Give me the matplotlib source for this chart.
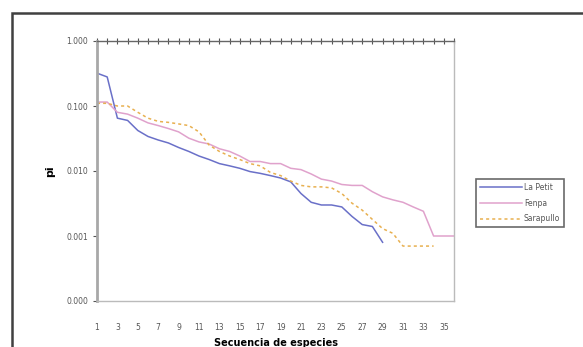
import numpy as np
import matplotlib
matplotlib.use("Agg")
import matplotlib.pyplot as plt
from matplotlib.patches import Rectangle
from matplotlib.ticker import FixedLocator, FixedFormatter

# species rank (category axis)
species = list(range(1, 37))

la_petit = [0.32, 0.28, 0.065, 0.06, 0.042, 0.034, 0.030, 0.027, 0.023, 0.020,
            0.017, 0.015, 0.013, 0.012, 0.011, 0.0098, 0.0092, 0.0085, 0.0078, 0.0068,
            0.0045, 0.0033, 0.0030, 0.0030, 0.0028, 0.0020, 0.0015, 0.0014, 0.0008]
fenpa = [0.115, 0.115, 0.080, 0.075, 0.065, 0.055, 0.050, 0.045, 0.040, 0.032,
         0.028, 0.026, 0.022, 0.020, 0.017, 0.014, 0.014, 0.013, 0.013, 0.011,
         0.0105, 0.0090, 0.0075, 0.0070, 0.0062, 0.0060, 0.0060, 0.0048, 0.0040, 0.0036,
         0.0033, 0.0028, 0.0024, 0.0010, 0.0010, 0.0010]
sarapullo = [0.11, 0.11, 0.10, 0.10, 0.080, 0.065, 0.058, 0.056, 0.053, 0.050,
             0.040, 0.025, 0.020, 0.017, 0.015, 0.013, 0.012, 0.0095, 0.0085, 0.0070,
             0.0060, 0.0057, 0.0057, 0.0055, 0.0045, 0.0032, 0.0025, 0.0018, 0.0013, 0.0011,
             0.0007, 0.0007, 0.0007, 0.0007]

series_names = ["La Petit", "Fenpa", "Sarapullo"]
y_ticks = [0.0001, 0.001, 0.01, 0.1, 1.0]
y_ticklabels = ["0.000", "0.001", "0.010", "0.100", "1.000"]

W, H = 583, 347
fig = plt.figure(figsize=(W / 100, H / 100), dpi=100)
fig.patch.set_facecolor("white")

# outer chart frame (cut on right and bottom)
fig.add_artist(Rectangle((12 / W, -0.1), 1.2, 1 - 13 / H + 0.1, transform=fig.transFigure,
                         fill=False, edgecolor="#404040", linewidth=1.8))

ax = fig.add_axes([97 / W, 1 - 301 / H, (454 - 97) / W, (301 - 41) / H])

ax.plot(species[:len(la_petit)], la_petit, color="#6a70c8", lw=1.1, label=series_names[0])
ax.plot(species[:len(fenpa)], fenpa, color="#e0a2cc", lw=1.1, label=series_names[1])
ax.plot(species[:len(sarapullo)], sarapullo, color="#e8b050", lw=1.1,
        linestyle=(0, (2, 2)), label=series_names[2])

ax.set_yscale("log")
ax.set_ylim(0.0001, 1.0)
ax.set_xlim(1, 36)
ax.yaxis.set_major_locator(FixedLocator(y_ticks))
ax.yaxis.set_major_formatter(FixedFormatter(y_ticklabels))
ax.yaxis.set_minor_locator(FixedLocator([]))
ax.tick_params(axis="y", labelsize=5.5, labelcolor="#555555", length=3, width=0.8,
               color="#555555", direction="out")

ax.set_xticks(species)
ax.set_xticklabels([str(s) if s % 2 == 1 else "" for s in species])
ax.tick_params(axis="x", labelsize=5.5, labelcolor="#555555", top=True, bottom=False,
               labelbottom=True, direction="inout", length=4, width=0.8, color="#555555",
               pad=14)

for side in ["bottom", "right"]:
    ax.spines[side].set_color("#bbbbbb")
    ax.spines[side].set_linewidth(1.0)
ax.spines["left"].set_color("#a8a8a8")
ax.spines["left"].set_linewidth(2.0)
ax.spines["top"].set_color("#666666")
ax.spines["top"].set_linewidth(1.0)

ax.set_ylabel("pi", fontsize=8, fontweight="bold", labelpad=8)
ax.set_xlabel("Secuencia de especies", fontsize=7, fontweight="bold", labelpad=4)

leg = fig.legend(loc="upper left", bbox_to_anchor=(472 / W, 1 - 175 / H), fontsize=5.5,
                 frameon=True, fancybox=False, edgecolor="#444444", handlelength=5.5,
                 borderpad=0.5, labelspacing=0.9, handletextpad=0.3)
leg.get_frame().set_linewidth(1.2)
for t in leg.get_texts():
    t.set_color("#555555")

fig.savefig("out.png", dpi=100)
